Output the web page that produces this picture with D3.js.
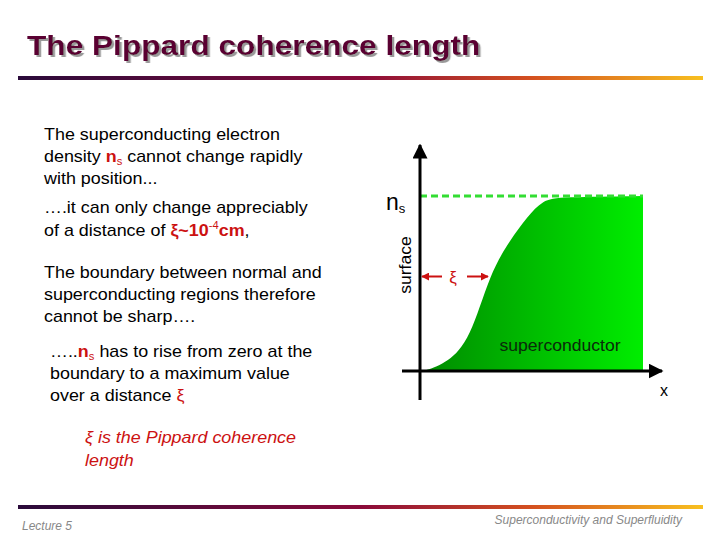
<!DOCTYPE html>
<html><head><meta charset="utf-8">
<script src="https://cdn.jsdelivr.net/npm/d3@7"></script>
<style>body{margin:0;background:#fff}svg{font-family:Arial,"Liberation Sans",sans-serif}</style>
</head><body><svg width="720" height="540"></svg>
<script>
// ns profile near the surface (x in arbitrary units, ns as fraction of max)
const profileX = [0, 2.2, 12.6, 22.4, 31.4, 40.4, 48, 55.2, 62.8, 100]
const profileY = [0, 0, 0.05, 0.177, 0.56, 0.747, 0.88, 0.977, 0.994, 1]
const xiX = 31.4
const xiY = 0.54

const svg = d3.select('svg')
const red = '#cc1111'
const stretch = 1.12

const xScale = d3.scaleLinear().domain([0, 100]).range([420, 643])
const yScale = d3.scaleLinear().domain([0, 1]).range([371, 196])

// gradient bars
const defs = svg.append('defs')
let bar = defs.append('linearGradient').attr('id', 'bar')
bar.append('stop').attr('offset', '0%').attr('stop-color', '#2a0a3a')
bar.append('stop').attr('offset', '50%').attr('stop-color', '#8a0a3a')
bar.append('stop').attr('offset', '75%').attr('stop-color', '#d45020')
bar.append('stop').attr('offset', '100%').attr('stop-color', '#f8c020')
let fillG = defs.append('linearGradient').attr('id', 'fillG')
fillG.append('stop').attr('offset', '0%').attr('stop-color', '#008a00')
fillG.append('stop').attr('offset', '100%').attr('stop-color', '#00ee00')
defs.append('filter').attr('id', 'shadow')
    .append('feDropShadow').attr('dx', 2).attr('dy', 2).attr('stdDeviation', 0.3).attr('flood-color', '#999')

svg.append('rect').attr('x', 18).attr('y', 76).attr('width', 685).attr('height', 4).attr('fill', 'url(#bar)')
svg.append('rect').attr('x', 18).attr('y', 505).attr('width', 685).attr('height', 4).attr('fill', 'url(#bar)')

// title
svg.append('text').attr('transform', 'translate(27,55) scale(1.13,1)').attr('font-size', 28).attr('font-weight', 'bold')
    .attr('fill', '#5a0030').attr('filter', 'url(#shadow)').text('The Pippard coherence length')

// left text
let lines = [
    [44, 140, [['The superconducting electron']]],
    [44, 162, [['density '], ['n', red, 'b'], ['s', red, 'sub'], [' cannot change rapidly']]],
    [44, 184, [['with position...']]],
    [44, 213, [['….it can only change appreciably']]],
    [44, 236, [['of a distance of '], ['ξ~10', red, 'b'], ['-4', red, 'sup'], ['cm', red, 'b'], [',']]],
    [44, 278, [['The boundary between normal and']]],
    [44, 300, [['superconducting regions therefore']]],
    [44, 322, [['cannot be sharp….']]],
    [50, 357, [['…..'], ['n', red, 'b'], ['s', red, 'sub'], [' has to rise from zero at the']]],
    [50, 379, [['boundary to a maximum value']]],
    [50, 401, [['over a distance  '], ['ξ', red]]]
]
lines.forEach(([x, y, parts]) => {
    let t = svg.append('text').attr('transform', 'translate(' + x + ',' + y + ') scale(' + stretch + ',1)')
        .attr('font-size', 16).attr('fill', '#000')
    let prevShift = 0
    parts.forEach(p => {
        let s = t.append('tspan').text(p[0]).attr('fill', p[1] || '#000')
        let shift = 0
        if (p[2] == 'b') s.attr('font-weight', 'bold')
        if (p[2] == 'sub') { s.attr('font-size', 10); shift = 3 }
        if (p[2] == 'sup') { s.attr('font-size', 10); shift = -7 }
        if (shift - prevShift != 0) s.attr('dy', shift - prevShift)
        prevShift = shift
    })
})
let it = svg.append('text').attr('transform', 'translate(85,0) scale(' + stretch + ',1)')
    .attr('font-size', 16).attr('font-style', 'italic').attr('fill', red)
it.append('tspan').attr('x', 0).attr('y', 443).text('ξ is the Pippard coherence')
it.append('tspan').attr('x', 0).attr('y', 466).text('length')

// footer
svg.append('text').attr('x', 22).attr('y', 530).attr('font-size', 12).attr('font-style', 'italic')
    .attr('fill', '#888').text('Lecture 5')
svg.append('text').attr('x', 682).attr('y', 524).attr('font-size', 12).attr('font-style', 'italic')
    .attr('fill', '#888').attr('text-anchor', 'end').text('Superconductivity and Superfluidity')

// filled area
let pts = profileX.map((x, i) => [x, profileY[i]])
let area = d3.area().x(d => xScale(d[0])).y0(yScale(0)).y1(d => yScale(d[1])).curve(d3.curveBasis)
svg.append('path').datum(pts).attr('d', area).attr('fill', 'url(#fillG)')

// dashed ns level
svg.append('line').attr('x1', xScale(0)).attr('x2', xScale(100)).attr('y1', yScale(1)).attr('y2', yScale(1))
    .attr('stroke', '#33dd33').attr('stroke-width', 3).attr('stroke-dasharray', '7,4')

// axes with arrow heads
defs.append('marker').attr('id', 'arr').attr('viewBox', '0 0 10 10').attr('refX', 9).attr('refY', 5)
    .attr('markerWidth', 5).attr('markerHeight', 5).attr('orient', 'auto')
    .append('path').attr('d', 'M0,0L10,5L0,10z').attr('fill', '#000')
svg.append('line').attr('x1', 420).attr('x2', 420).attr('y1', 400).attr('y2', 145)
    .attr('stroke', '#000').attr('stroke-width', 3).attr('marker-end', 'url(#arr)')
svg.append('line').attr('x1', 402).attr('x2', 662).attr('y1', yScale(0)).attr('y2', yScale(0))
    .attr('stroke', '#000').attr('stroke-width', 3).attr('marker-end', 'url(#arr)')

// xi arrows
defs.append('marker').attr('id', 'rarr').attr('viewBox', '0 0 10 10').attr('refX', 9).attr('refY', 5)
    .attr('markerWidth', 4).attr('markerHeight', 4).attr('orient', 'auto')
    .append('path').attr('d', 'M0,0L10,5L0,10z').attr('fill', red)
let xy = yScale(xiY)
svg.append('line').attr('x1', 442).attr('x2', 422).attr('y1', xy).attr('y2', xy)
    .attr('stroke', red).attr('stroke-width', 2).attr('marker-end', 'url(#rarr)')
svg.append('line').attr('x1', 467).attr('x2', xScale(xiX) - 2).attr('y1', xy).attr('y2', xy)
    .attr('stroke', red).attr('stroke-width', 2).attr('marker-end', 'url(#rarr)')
svg.append('text').attr('x', 453).attr('y', xy + 6).attr('text-anchor', 'middle').attr('font-size', 17)
    .attr('fill', red).text('ξ')

// labels
let ns = svg.append('text').attr('x', 386).attr('y', 210).attr('font-size', 23)
ns.append('tspan').text('n')
ns.append('tspan').attr('font-size', 13).attr('dy', 3).text('s')
svg.append('text').attr('transform', 'translate(411,265) rotate(-90) scale(1.1,1)').attr('text-anchor', 'middle')
    .attr('font-size', 16).text('surface')
svg.append('text').attr('transform', 'translate(560,351) scale(1.1,1)').attr('text-anchor', 'middle').attr('font-size', 16)
    .attr('fill', '#0a2a0a').text('superconductor')
svg.append('text').attr('x', 664).attr('y', 396).attr('text-anchor', 'middle').attr('font-size', 16).text('x')
</script></body></html>
